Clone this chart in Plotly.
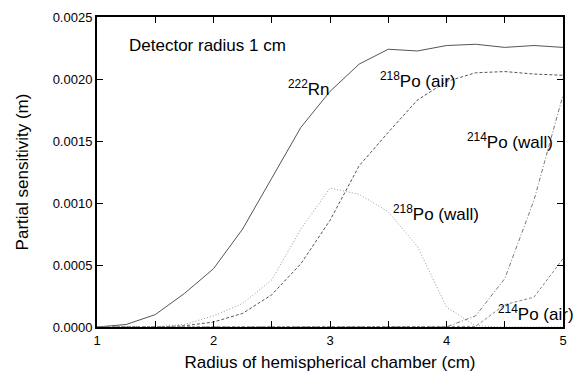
import plotly.graph_objects as go

radius = [1.0, 1.25, 1.5, 1.75, 2.0, 2.25, 2.5, 2.75, 3.0, 3.25, 3.5, 3.75, 4.0, 4.25, 4.5, 4.75, 5.0]
rn222 = [0, 0.00002, 0.0001, 0.00027, 0.00047, 0.00079, 0.0012, 0.00161, 0.0019, 0.00212, 0.00224, 0.002226, 0.00227, 0.00228, 0.002255, 0.00227, 0.002255]
po218_air = [0, 0, 0, 0.00001, 0.00004, 0.00011, 0.00026, 0.00051, 0.00086, 0.0013, 0.00157, 0.00183, 0.00198, 0.00205, 0.00206, 0.00204, 0.00203]
po218_wall = [0, 0, 0.000003, 0.00002, 0.00009, 0.00019, 0.00038, 0.00079, 0.00112, 0.00107, 0.00093, 0.00065, 0.00016, 0.00001, 0, 0, 0]
po214_wall = [0, 0, 0, 0, 0, 0, 0, 0, 0, 0, 0, 0, 0, 0.00009, 0.00039, 0.00102, 0.00187]
po214_air = [0, 0, 0, 0, 0, 0, 0, 0, 0, 0, 0, 0, 0, 0.000005, 0.00018, 0.00024, 0.00055]

x_tickvals = [1, 1.5, 2, 2.5, 3, 3.5, 4, 4.5, 5]
x_ticktext = ["1", "", "2", "", "3", "", "4", "", "5"]
y_tickvals = [0, 0.0005, 0.001, 0.0015, 0.002, 0.0025]

FONT = "Liberation Sans, Arial, sans-serif"

fig = go.Figure()
series = [
    (rn222, "#555555", "solid"),
    (po218_air, "#555555", "3px,2px"),
    (po218_wall, "#999999", "1px,2px"),
    (po214_wall, "#777777", "4px,2px,1px,2px"),
    (po214_air, "#888888", "3px,2px"),
]
for ys, col, dash in series:
    fig.add_trace(go.Scatter(x=radius, y=ys, mode="lines",
                             line=dict(color=col, width=1, dash=dash),
                             showlegend=False))

labels = [
    ("Detector radius 1 cm", 1.26, 0.00227),
    ("<sup>222</sup>Rn", 2.62, 0.00193),
    ("<sup>218</sup>Po (air)", 3.415, 0.00199),
    ("<sup>214</sup>Po (wall)", 4.16, 0.0015),
    ("<sup>218</sup>Po (wall)", 3.525, 0.000917),
    ("<sup>214</sup>Po (air)", 4.425, 0.00011),
]
for txt, lx, ly in labels:
    fig.add_annotation(x=lx, y=ly, text=txt, showarrow=False,
                       xanchor="left", yanchor="middle",
                       font=dict(family=FONT, size=17, color="black"))

axis_common = dict(showline=True, linecolor="black", linewidth=2, mirror="ticks",
                   ticks="inside", ticklen=6, tickcolor="black", tickwidth=1,
                   showgrid=False, zeroline=False, automargin=False,
                   tickfont=dict(family=FONT, size=13, color="black"))

fig.update_xaxes(range=[1, 5], tickvals=x_tickvals, ticktext=x_ticktext,
                 title=dict(text="Radius of hemispherical chamber (cm)",
                            font=dict(family=FONT, size=17, color="black"), standoff=10),
                 **axis_common)
fig.update_yaxes(range=[0, 0.0025], tickvals=y_tickvals, tickformat=".4f",
                 title=dict(text="Partial sensitivity (m)",
                            font=dict(family=FONT, size=17, color="black"), standoff=20),
                 **axis_common)

fig.update_layout(width=578, height=377,
                  margin=dict(l=97, r=15, t=17, b=50),
                  paper_bgcolor="white", plot_bgcolor="white",
                  font=dict(family=FONT))

fig.write_html("out.html")
